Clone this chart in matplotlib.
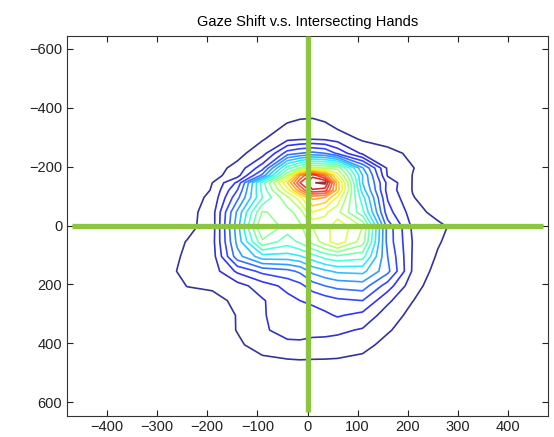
import numpy as np
import matplotlib
matplotlib.use("Agg")
import matplotlib.pyplot as plt
from matplotlib.colors import Normalize

plt.rcParams["font.family"] = ["Liberation Sans", "DejaVu Sans"]

# ── Gaze-shift density on a (non-uniform) grid ────────────────────────────────
# horizontal shift (columns) and vertical shift (rows), pixels
x_nodes = [-290, -240, -190, -140, -90, -40, -15, 10, 35, 60, 110, 160, 210, 260, 310, 360]
y_nodes = [-395, -345, -295, -245, -195, -170, -145, -120, -95, -45,
           5, 55, 105, 155, 205, 255, 305, 355, 405, 455, 505]

density = [
    [0, 0, 0, 0, 0, 0.3, 0.45, 0.5, 0.35, 0.1, 0, 0, 0, 0, 0, 0],
    [0, 0, 0, 0, 0.3, 1.05, 1.25, 1.3, 1.1, 0.7, 0.2, 0, 0, 0, 0, 0],
    [0, 0, 0.2, 0.3, 0.9, 1.65, 1.8, 1.85, 1.75, 1.5, 0.85, 0.6, 0.2, 0, 0, 0],
    [0, 0, 0.2, 0.7, 1.57, 4.5, 5.0, 5.3, 5.0, 3.8, 1.78, 1.3, 0.8, 0.3, 0, 0],
    [0, 0.2, 0.6, 1.28, 3.6, 9.5, 11.2, 12.3, 12.0, 11.7, 6.1, 1.8, 1.03, 0.5, 0.1, 0],
    [0, 0.3, 0.6, 1.6, 5.3, 12.0, 17.0, 19.7, 17.5, 13.5, 7.0, 1.9, 0.98, 0.45, 0.1, 0],
    [0, 0.4, 1.0, 3.2, 9.5, 15.0, 19.0, 20.9, 21.3, 15.5, 7.0, 2.7, 0.95, 0.4, 0.1, 0],
    [0, 0.5, 1.05, 4.0, 9.3, 13.5, 16.8, 19.9, 19.5, 15.5, 7.5, 2.6, 0.95, 0.4, 0.1, 0],
    [0, 0.6, 1.2, 4.7, 9.0, 11.8, 13.6, 16.3, 16.0, 13.8, 8.4, 2.9, 1.05, 0.4, 0.1, 0],
    [0, 0.6, 1.54, 6.2, 11.1, 10.6, 11.5, 14.0, 13.2, 12.3, 9.3, 3.4, 1.5, 0.6, 0.2, 0],
    [0.2, 0.7, 1.5, 6.6, 12.2, 10.5, 10.8, 12.0, 12.5, 13.8, 12.0, 4.6, 1.8, 1.3, 0.5, 0],
    [0.4, 1.05, 1.6, 6.3, 10.8, 9.5, 10.2, 11.4, 12.5, 13.7, 11.5, 4.6, 1.95, 1.1, 0.4, 0],
    [0.6, 1.15, 1.5, 5.6, 7.6, 7.6, 7.9, 8.6, 9.4, 9.8, 9.4, 5.0, 1.9, 0.9, 0.2, 0],
    [0.6, 1.3, 1.5, 3.2, 4.3, 4.7, 5.2, 6.3, 6.8, 7.2, 7.3, 5.3, 1.85, 0.6, 0.1, 0],
    [0.3, 1.03, 1.15, 1.6, 2.5, 3.3, 3.7, 4.5, 5.0, 5.3, 5.5, 3.5, 1.35, 0.5, 0, 0],
    [0, 0.5, 0.7, 1.2, 1.9, 2.7, 3.0, 3.2, 3.5, 3.8, 4.0, 2.2, 1.02, 0.4, 0, 0],
    [0, 0.2, 0.4, 1.05, 1.9, 2.55, 2.6, 2.6, 2.8, 3.1, 2.7, 1.5, 0.7, 0.2, 0, 0],
    [0, 0.1, 0.3, 1.05, 1.9, 2.25, 2.3, 2.3, 2.3, 2.2, 1.9, 1.1, 0.5, 0.1, 0, 0],
    [0, 0, 0.1, 0.8, 1.5, 1.85, 1.85, 1.7, 1.65, 1.6, 1.3, 0.7, 0.3, 0, 0, 0],
    [0, 0, 0, 0.3, 0.8, 0.97, 1.02, 0.99, 0.98, 0.95, 0.8, 0.4, 0.1, 0, 0, 0],
    [0, 0, 0, 0, 0, 0, 0, 0, 0, 0, 0, 0, 0, 0, 0, 0],
]

levels = list(range(1, 22))

# crosshair through the hand-intersection point
cross_h_x = [-470, 470]
cross_v_y = [-642, 632]

x_ticks = [-400, -300, -200, -100, 0, 100, 200, 300, 400]
y_ticks = [-600, -400, -200, 0, 200, 400, 600]

# ── Figure ────────────────────────────────────────────────────────────────────
fig = plt.figure(figsize=(5.54, 4.37), dpi=100)
ax = fig.add_axes([67 / 554, 1 - 415.5 / 437, 481 / 554, 380 / 437])

ax.contour(x_nodes, y_nodes, np.array(density), levels=levels, cmap="jet",
           norm=Normalize(vmin=levels[0], vmax=levels[-1]),
           linewidths=1.2, alpha=0.8)

green = "#8cc63f"
ax.plot(cross_h_x, [0, 0], color=green, lw=3.8, solid_capstyle="butt", zorder=5)
ax.plot([0, 0], cross_v_y, color=green, lw=3.8, solid_capstyle="butt", zorder=5)

ax.set_xlim(-480, 480)
ax.set_ylim(645, -645)
ax.set_xticks(x_ticks)
ax.set_yticks(y_ticks)
ax.tick_params(direction="in", top=True, right=True, length=4, width=0.8,
               labelsize=10.5, colors="#222222")
for s in ax.spines.values():
    s.set_linewidth(0.8)
    s.set_color("#333333")

ax.set_title("Gaze Shift v.s. Intersecting Hands", fontsize=10.5, pad=7)

fig.savefig("out.png", dpi=100)
